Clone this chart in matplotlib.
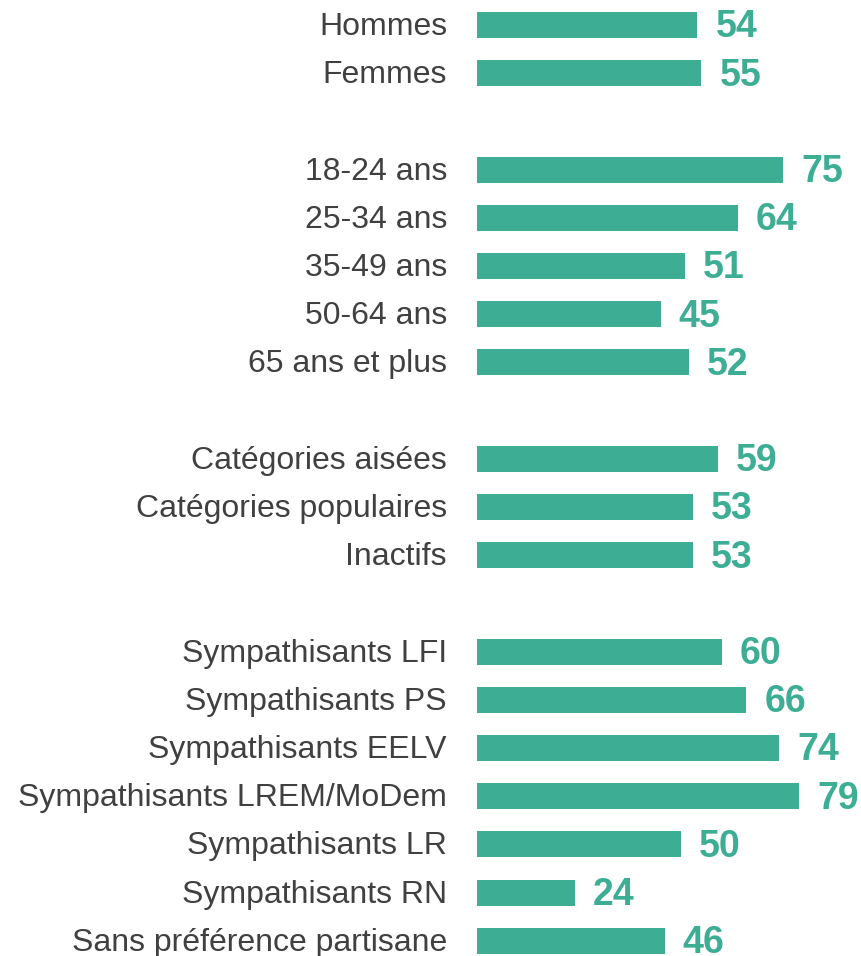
import matplotlib
matplotlib.use("Agg")
from matplotlib import pyplot as plt

# categories (None = blank separator row)
labels = ["Hommes", "Femmes", None,
          "18-24 ans", "25-34 ans", "35-49 ans", "50-64 ans", "65 ans et plus", None,
          "Catégories aisées", "Catégories populaires", "Inactifs", None,
          "Sympathisants LFI", "Sympathisants PS", "Sympathisants EELV",
          "Sympathisants LREM/MoDem", "Sympathisants LR", "Sympathisants RN",
          "Sans préférence partisane"]
values = [54, 55, None,
          75, 64, 51, 45, 52, None,
          59, 53, 53, None,
          60, 66, 74, 79, 50, 24, 46]

teal = "#3DAE94"
W, H = 861, 956
fig = plt.figure(figsize=(W / 100, H / 100), dpi=100)

# axes starts exactly where the bars start
left_px = 477
px_per_unit = 4.08
row_px = 48.2
first_row_px = 25

ax = fig.add_axes([left_px / W, 0, (W - left_px) / W, 1])
ax.set_xlim(0, (W - left_px) / px_per_unit)
ax.set_ylim((H - first_row_px) / row_px, -first_row_px / row_px)
ax.axis("off")

for i, (lab, v) in enumerate(zip(labels, values)):
    if lab is None:
        continue
    ax.barh(i, v, height=0.54, color=teal)
    ax.text(v + 18 / px_per_unit, i + 0.05, str(v), va="center", ha="left",
            fontsize=27, fontweight="bold", color=teal, family="Liberation Sans")
    ax.text(-30 / px_per_unit, i + 0.04, lab, va="center", ha="right",
            fontsize=23, color="#404040", family="Liberation Sans", clip_on=False)

fig.savefig("out.png", dpi=100)
